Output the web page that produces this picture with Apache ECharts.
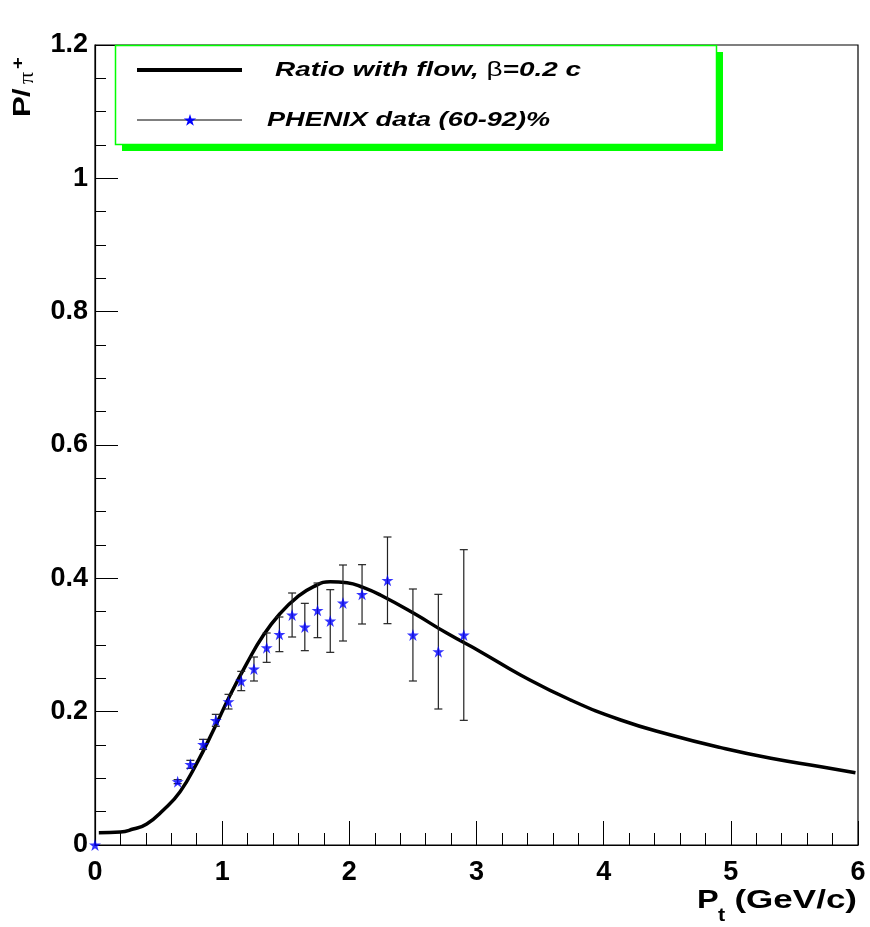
<!DOCTYPE html>
<html><head><meta charset="utf-8">
<script src="https://cdn.jsdelivr.net/npm/echarts@6/dist/echarts.min.js"></script>
<style>html,body{margin:0;padding:0;background:#fff}#c{width:870px;height:927px}</style>
</head><body><div id="c"></div>
<script>
// Model curve: ratio with flow, beta = 0.2 c
const curveX = [0.03, 0.2, 0.3, 0.407, 0.538, 0.669, 0.8, 0.932, 1.063, 1.194, 1.325, 1.457, 1.588, 1.719, 1.85, 1.982, 2.113, 2.244, 2.507, 2.769, 3.031, 3.346, 3.74, 4.134, 4.528, 4.921, 5.315, 5.709, 5.98];
const curveY = [0.0185, 0.0195, 0.024, 0.0315, 0.0525, 0.08, 0.1225, 0.1725, 0.225, 0.2725, 0.315, 0.3475, 0.3715, 0.3875, 0.395, 0.3935, 0.386, 0.375, 0.3475, 0.3175, 0.29, 0.255, 0.2175, 0.1875, 0.165, 0.146, 0.130, 0.1175, 0.1085];
// PHENIX data (60-92)%
const dataX = [0, 0.65, 0.75, 0.85, 0.95, 1.05, 1.15, 1.25, 1.35, 1.45, 1.55, 1.65, 1.75, 1.85, 1.95, 2.1, 2.3, 2.5, 2.7, 2.9];
const dataY = [0, 0.095, 0.121, 0.151, 0.187, 0.215, 0.246, 0.264, 0.296, 0.316, 0.345, 0.327, 0.352, 0.336, 0.363, 0.376, 0.397, 0.315, 0.290, 0.315];
const dataErr = [0, 0.003, 0.006, 0.0075, 0.009, 0.011, 0.0145, 0.018, 0.022, 0.026, 0.033, 0.0355, 0.041, 0.047, 0.057, 0.0445, 0.065, 0.069, 0.086, 0.128];
// Axis ranges
const xRange = [0, 6, 1];
const yRange = [0, 1.2, 0.2];
const legendLabels = ['Ratio with flow, ', '\u03b2', '=0.2 c', 'PHENIX data (60-92)%'];

const STAR = 'path://M50,0 L61.2,34.5 L97.6,34.5 L68.2,55.9 L79.4,90.5 L50,69.1 L20.6,90.5 L31.8,55.9 L2.4,34.5 L38.8,34.5 Z';
const FONT = '"Liberation Sans", Arial, Helvetica, sans-serif';

function starPoints(cx, cy, R) {
  const pts = [];
  for (let k = 0; k < 10; k++) {
    const r = k % 2 === 0 ? R : R * 0.382;
    const a = -Math.PI / 2 + k * Math.PI / 5;
    pts.push([cx + r * Math.cos(a), cy + r * Math.sin(a)]);
  }
  return pts;
}

const chart = echarts.init(document.getElementById('c'), null, {renderer: 'canvas'});

const axisCommon = {
  axisLine: {show: true, onZero: false, lineStyle: {color: '#000', width: 1.2}},
  axisTick: {show: true, inside: true, lineStyle: {color: '#000', width: 1}},
  minorTick: {show: true, lineStyle: {color: '#000', width: 1}},
  splitLine: {show: false},
  axisLabel: {color: '#000', fontFamily: FONT, fontWeight: 'bold', fontSize: 27}
};

const option = {
  backgroundColor: '#fff',
  animation: false,
  grid: {left: 95, right: 12, top: 45, bottom: 82, show: true, borderColor: '#000', borderWidth: 1.2, backgroundColor: 'transparent'},
  xAxis: Object.assign({}, axisCommon, {
    type: 'value', min: xRange[0], max: xRange[1], interval: xRange[2],
    axisTick: Object.assign({}, axisCommon.axisTick, {length: 24}),
    minorTick: Object.assign({}, axisCommon.minorTick, {splitNumber: 5, length: 12}),
    axisLabel: Object.assign({}, axisCommon.axisLabel, {margin: 14})
  }),
  yAxis: Object.assign({}, axisCommon, {
    type: 'value', min: yRange[0], max: yRange[1], interval: yRange[2],
    axisTick: Object.assign({}, axisCommon.axisTick, {length: 23}),
    minorTick: Object.assign({}, axisCommon.minorTick, {splitNumber: 4, length: 11}),
    axisLabel: Object.assign({}, axisCommon.axisLabel, {margin: 7, formatter: v => String(+v.toFixed(1))})
  }),
  series: [
    {
      type: 'line', name: 'flow', smooth: 0.5, showSymbol: false,
      lineStyle: {color: '#000', width: 3.5}, z: 2,
      data: curveX.map((x, i) => [x, curveY[i]])
    },
    {
      type: 'custom', name: 'err', z: 3,
      renderItem: function (params, api) {
        const x = api.value(0), y = api.value(1), e = api.value(2);
        if (!(e > 0)) return {type: 'group', children: []};
        const lo = api.coord([x, y - e]), hi = api.coord([x, y + e]);
        const w = 4, st = {stroke: '#222', lineWidth: 1.2};
        return {type: 'group', children: [
          {type: 'line', shape: {x1: lo[0], y1: lo[1], x2: hi[0], y2: hi[1]}, style: st},
          {type: 'line', shape: {x1: lo[0] - w, y1: lo[1], x2: lo[0] + w, y2: lo[1]}, style: st},
          {type: 'line', shape: {x1: hi[0] - w, y1: hi[1], x2: hi[0] + w, y2: hi[1]}, style: st}
        ]};
      },
      encode: {x: 0, y: 1},
      data: dataX.map((x, i) => [x, dataY[i], dataErr[i]])
    },
    {
      type: 'scatter', name: 'PHENIX', symbol: STAR, symbolSize: 12, z: 4, clip: false,
      itemStyle: {color: '#0000ff'},
      data: dataX.map((x, i) => [x, dataY[i]])
    }
  ],
  graphic: [
    // legend box with shadow
    {type: 'rect', z: 10, shape: {x: 122, y: 52, width: 601, height: 99}, style: {fill: '#00ff00'}},
    {type: 'rect', z: 11, shape: {x: 115.5, y: 45.5, width: 601, height: 99}, style: {fill: '#fff', stroke: '#00ff00', lineWidth: 1.5}},
    {type: 'line', z: 12, shape: {x1: 137, y1: 70, x2: 242, y2: 70}, style: {stroke: '#000', lineWidth: 4}},
    {type: 'line', z: 12, shape: {x1: 137, y1: 120, x2: 242, y2: 120}, style: {stroke: '#000', lineWidth: 1}},
    {type: 'polygon', z: 13, shape: {points: starPoints(190, 120.5, 6.5)}, style: {fill: '#0000ff'}},
    {type: 'text', z: 13, x: 275, y: 70, scaleX: 1.33, style: {
      text: '{a|' + legendLabels[0] + '}{b|' + legendLabels[1] + '}{a|' + legendLabels[2] + '}',
      verticalAlign: 'middle', align: 'left',
      rich: {
        a: {fontFamily: FONT, fontWeight: 'bold', fontStyle: 'italic', fontSize: 21, fill: '#000'},
        b: {fontFamily: FONT, fontWeight: 'normal', fontSize: 21, fill: '#000'}
      }
    }},
    {type: 'text', z: 13, x: 267, y: 120, scaleX: 1.29, style: {
      text: legendLabels[3], fontFamily: FONT, fontWeight: 'bold', fontStyle: 'italic', fontSize: 21, fill: '#000',
      verticalAlign: 'middle', align: 'left'
    }},
    // x axis title  P_t (GeV/c)
    {type: 'text', z: 13, x: 697, y: 901, scaleX: 1.3, style: {text: 'P', fontFamily: FONT, fontWeight: 'bold', fontSize: 25, fill: '#000', verticalAlign: 'middle', align: 'left'}},
    {type: 'text', z: 13, x: 718, y: 916, scaleX: 1.2, style: {text: 't', fontFamily: FONT, fontWeight: 'bold', fontSize: 18, fill: '#000', verticalAlign: 'middle', align: 'left'}},
    {type: 'text', z: 13, x: 857, y: 901, scaleX: 1.4, style: {text: '(GeV/c)', fontFamily: FONT, fontWeight: 'bold', fontSize: 25, fill: '#000', verticalAlign: 'middle', align: 'right'}},
    // y axis title  P/pi^+
    {type: 'group', x: 32, y: 117, rotation: Math.PI / 2, z: 13, children: [
      {type: 'text', x: 0, y: -9, scaleX: 1.3, style: {text: 'P', fontFamily: FONT, fontWeight: 'bold', fontSize: 24, fill: '#000', verticalAlign: 'middle', align: 'left'}},
      {type: 'text', x: 20, y: -9, scaleX: 1.3, style: {text: '/', fontFamily: FONT, fontWeight: 'bold', fontSize: 24, fill: '#000', verticalAlign: 'middle', align: 'left'}},
      {type: 'text', x: 33, y: -5, scaleX: 1.15, style: {text: '\u03c0', fontFamily: '"Liberation Serif", serif', fontWeight: 'normal', fontSize: 21, fill: '#000', verticalAlign: 'middle', align: 'left'}},
      {type: 'text', x: 48, y: -14, scaleX: 1.2, style: {text: '+', fontFamily: FONT, fontWeight: 'bold', fontSize: 17, fill: '#000', verticalAlign: 'middle', align: 'left'}}
    ]}
  ]
};
chart.setOption(option);
</script>
</body></html>
